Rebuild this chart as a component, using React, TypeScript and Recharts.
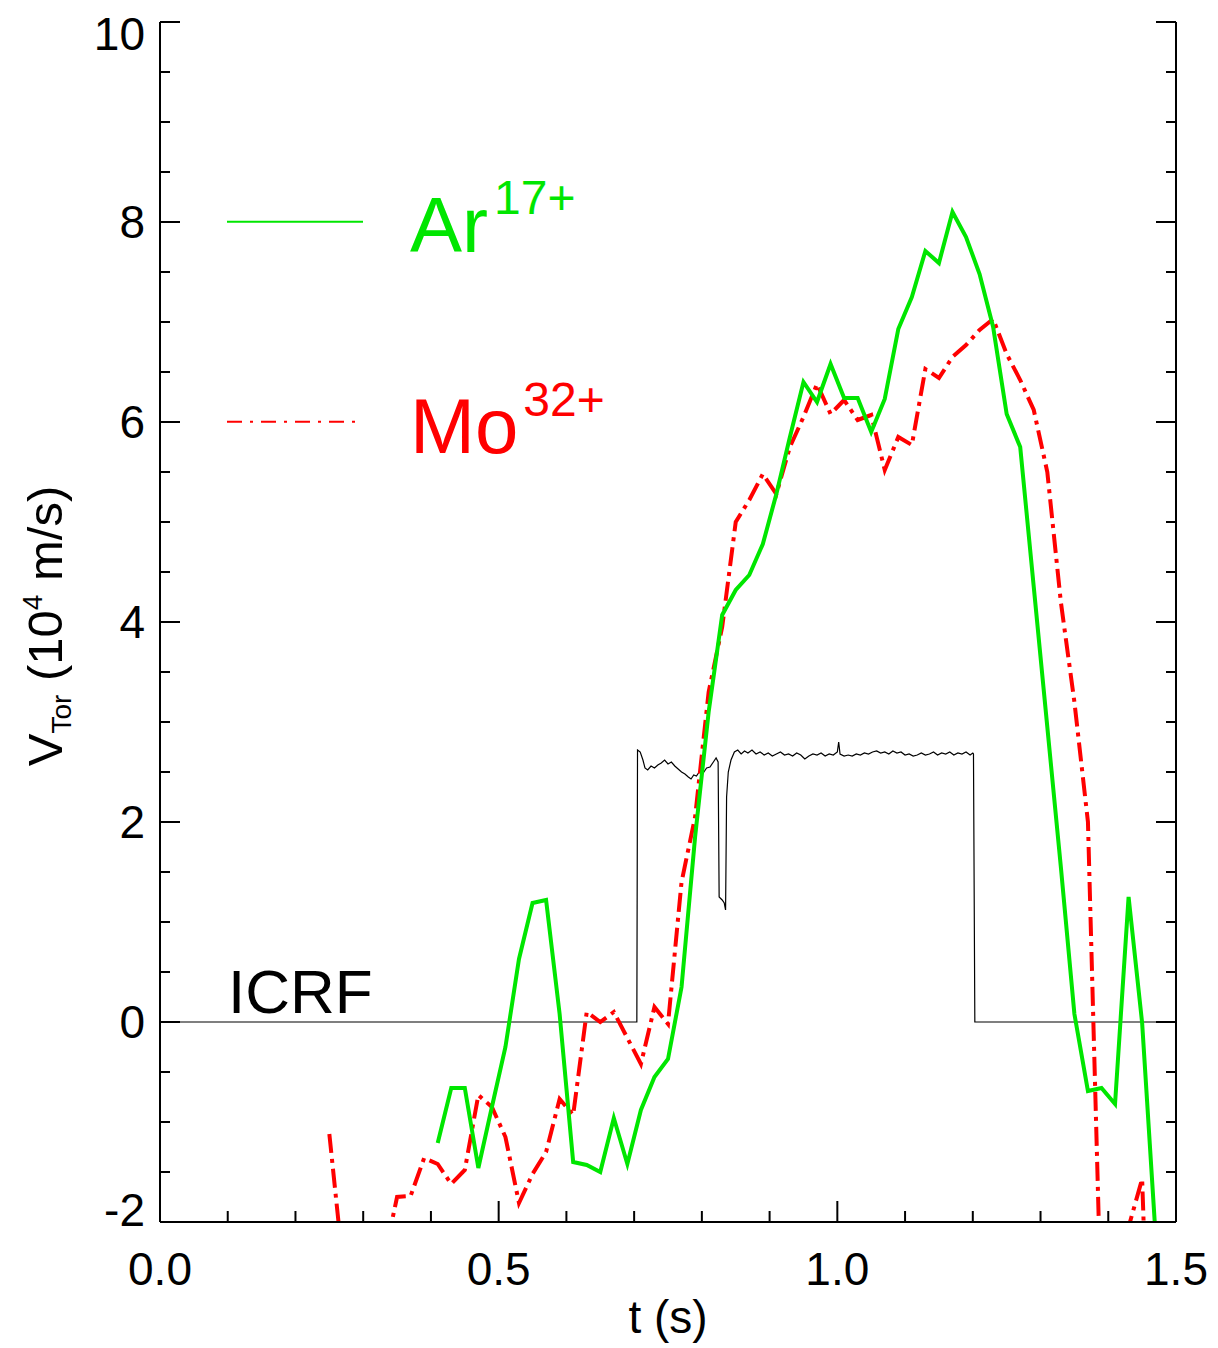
import React from 'react';
import { LineChart, Line, XAxis, YAxis } from 'recharts';

// Ar17+ toroidal velocity (10^4 m/s)
const arTimes = [
  0.41, 0.43, 0.45, 0.47, 0.49, 0.51, 0.53, 0.55, 0.57, 0.59, 0.61, 0.63, 0.65, 0.67, 0.69, 0.71, 0.73, 0.75,
  0.77, 0.79, 0.81, 0.83, 0.85, 0.87, 0.89, 0.91, 0.93, 0.95, 0.97, 0.99, 1.01, 1.03, 1.05, 1.07, 1.09, 1.11,
  1.13, 1.15, 1.17, 1.19, 1.21, 1.23, 1.25, 1.27, 1.29, 1.31, 1.33, 1.35, 1.37, 1.39, 1.41, 1.43, 1.45, 1.47,
];
const arValues = [
  -1.21, -0.66, -0.66, -1.46, -0.85, -0.25, 0.63, 1.19, 1.22, 0.08, -1.4, -1.43, -1.5, -0.96, -1.42, -0.88, -0.55, -0.37,
  0.35, 1.85, 3.1, 4.07, 4.32, 4.47, 4.78, 5.28, 5.85, 6.4, 6.2, 6.58, 6.24, 6.24, 5.9, 6.23, 6.93, 7.25,
  7.71, 7.59, 8.1, 7.85, 7.48, 6.95, 6.08, 5.75, 4.35, 2.95, 1.55, 0.08, -0.69, -0.66, -0.82, 1.25, -0.01, -2.15,
];

// Mo32+ toroidal velocity
const moTimes = [
  0.25, 0.27, 0.29, 0.31, 0.33, 0.35, 0.37, 0.39, 0.41, 0.43, 0.45, 0.47, 0.49, 0.51, 0.53, 0.55, 0.57, 0.59,
  0.61, 0.63, 0.65, 0.67, 0.69, 0.71, 0.73, 0.75, 0.77, 0.79, 0.81, 0.83, 0.85, 0.87, 0.89, 0.91, 0.93, 0.95,
  0.97, 0.99, 1.01, 1.03, 1.05, 1.07, 1.09, 1.11, 1.13, 1.15, 1.17, 1.19, 1.21, 1.23, 1.25, 1.27, 1.29, 1.31,
  1.33, 1.35, 1.37, 1.39, 1.41, 1.43, 1.45, 1.47,
];
const moValues = [
  -1.12, -2.42, -3.0, -2.9, -2.39, -1.75, -1.74, -1.36, -1.42, -1.62, -1.48, -0.73, -0.85, -1.15, -1.81, -1.52, -1.3, -0.77,
  -0.93, 0.1, 0.0, 0.1, -0.16, -0.42, 0.15, -0.02, 1.4, 2.05, 3.3, 3.95, 5.0, 5.22, 5.48, 5.28, 5.75, 6.05,
  6.38, 6.08, 6.22, 6.02, 6.07, 5.52, 5.85, 5.77, 6.53, 6.44, 6.65, 6.77, 6.92, 7.03, 6.68, 6.42, 6.12, 5.5,
  4.2, 3.2, 2.0, -3.0, -3.5, -2.05, -1.57, -5.5,
];

// ICRF power trace (arbitrary units, drawn on the same axis)
const icrfTimes = [
  0, 0.704, 0.705, 0.709, 0.713, 0.716, 0.72, 0.725, 0.73, 0.735, 0.74, 0.745, 0.75, 0.755, 0.76, 0.765, 0.77, 0.775,
  0.78, 0.784, 0.788, 0.792, 0.797, 0.802, 0.807, 0.812, 0.817, 0.821, 0.824, 0.8255, 0.83, 0.833, 0.835, 0.8365,
  0.839, 0.843, 0.848, 0.853, 0.858, 0.863, 0.868, 0.874, 0.88, 0.886, 0.892, 0.898, 0.904, 0.91, 0.916, 0.922,
  0.928, 0.934, 0.94, 0.946, 0.952, 0.958, 0.964, 0.97, 0.976, 0.982, 0.988, 0.994, 1.0, 1.002, 1.004, 1.01,
  1.016, 1.022, 1.028, 1.034, 1.04, 1.046, 1.052, 1.058, 1.064, 1.07, 1.076, 1.082, 1.088, 1.094, 1.1, 1.106,
  1.112, 1.118, 1.124, 1.13, 1.136, 1.142, 1.148, 1.154, 1.16, 1.166, 1.172, 1.178, 1.184, 1.19, 1.196, 1.2,
  1.201, 1.203, 1.5,
];
const icrfValues = [
  0, 0, 2.72, 2.7, 2.62, 2.54, 2.52, 2.56, 2.54, 2.57, 2.59, 2.62, 2.58, 2.6, 2.56, 2.53, 2.5, 2.48,
  2.45, 2.43, 2.47, 2.46, 2.51, 2.49, 2.54, 2.55, 2.6, 2.64, 2.6, 1.25, 1.22, 1.19, 1.12, 2.25,
  2.5, 2.62, 2.7, 2.72, 2.68, 2.71, 2.69, 2.72, 2.68, 2.7, 2.67, 2.69, 2.66, 2.68, 2.7, 2.67,
  2.68, 2.66, 2.69, 2.67, 2.63, 2.66, 2.68, 2.67, 2.69, 2.66, 2.68, 2.67, 2.7, 2.8, 2.68, 2.66,
  2.67, 2.66, 2.68, 2.67, 2.69, 2.68, 2.7, 2.71, 2.69, 2.7, 2.68, 2.71, 2.69, 2.7, 2.67, 2.68,
  2.66, 2.67, 2.69, 2.67, 2.68, 2.7, 2.67, 2.69, 2.68, 2.7, 2.67, 2.69, 2.68, 2.7, 2.67, 2.69,
  2.68, 0, 0,
];

const xTicks = [0, 0.1, 0.2, 0.3, 0.4, 0.5, 0.6, 0.7, 0.8, 0.9, 1.0, 1.1, 1.2, 1.3, 1.4, 1.5];
const yTicks = [-2, -1.5, -1, -0.5, 0, 0.5, 1, 1.5, 2, 2.5, 3, 3.5, 4, 4.5, 5, 5.5, 6, 6.5, 7, 7.5, 8, 8.5, 9, 9.5, 10];

const zip = (ts: number[], vs: number[]) => ts.map((t, i) => ({ t, v: vs[i] }));
const arData = zip(arTimes, arValues);
const moData = zip(moTimes, moValues);
const icrfData = zip(icrfTimes, icrfValues);

const FONT = '"Liberation Sans", Arial, Helvetica, sans-serif';
const GREEN = '#00e600';
const RED = '#ff0000';

const isMajorX = (v: number) => Math.abs(v * 2 - Math.round(v * 2)) < 1e-6;
const isMajorY = (v: number) => Math.abs(v / 2 - Math.round(v / 2)) < 1e-6;

const BottomTick = ({ x, y, payload }: any) => {
  const major = isMajorX(payload.value);
  return (
    <g>
      <line x1={x} y1={y} x2={x} y2={y - (major ? 21 : 11)} stroke="#000" strokeWidth={2} />
      {major && (
        <text x={x} y={y + 63} textAnchor="middle" fontSize={46} fontFamily={FONT} fill="#000">
          {payload.value.toFixed(1)}
        </text>
      )}
    </g>
  );
};

const TopTick = ({ x, y, payload }: any) => {
  const major = isMajorX(payload.value);
  return <line x1={x} y1={y} x2={x} y2={y + (major ? 21 : 11)} stroke="#000" strokeWidth={2} />;
};

const LeftTick = ({ x, y, payload }: any) => {
  const v = payload.value;
  const major = isMajorY(v);
  let dy = 0;
  if (v === 10) dy = 12;
  if (v === -2) dy = -12;
  return (
    <g>
      <line x1={x} y1={y} x2={x + (major ? 20 : 10)} y2={y} stroke="#000" strokeWidth={2} />
      {major && (
        <text x={x - 15} y={y + dy + 16} textAnchor="end" fontSize={46} fontFamily={FONT} fill="#000">
          {v}
        </text>
      )}
    </g>
  );
};

const RightTick = ({ x, y, payload }: any) => {
  const major = isMajorY(payload.value);
  return <line x1={x} y1={y} x2={x - (major ? 20 : 10)} y2={y} stroke="#000" strokeWidth={2} />;
};

export default function App() {
  return (
    <div style={{ position: 'absolute', left: 0, top: 0, width: 1218, height: 1348, background: '#fff' }}>
      <LineChart width={1218} height={1348} margin={{ top: 22, right: 0, bottom: 0, left: 0 }}>
        <XAxis
          xAxisId={0}
          dataKey="t"
          type="number"
          domain={[0, 1.5]}
          ticks={xTicks}
          interval={0}
          height={126}
          axisLine={{ stroke: '#000', strokeWidth: 2 }}
          tickLine={false}
          tickSize={0}
          tickMargin={0}
          tick={<BottomTick />}
        />
        <XAxis
          xAxisId="top"
          orientation="top"
          dataKey="t"
          type="number"
          domain={[0, 1.5]}
          ticks={xTicks}
          interval={0}
          height={0}
          axisLine={{ stroke: '#000', strokeWidth: 2 }}
          tickLine={false}
          tickSize={0}
          tickMargin={0}
          tick={<TopTick />}
        />
        <YAxis
          yAxisId={0}
          type="number"
          domain={[-2, 10]}
          allowDataOverflow
          ticks={yTicks}
          interval={0}
          width={160}
          axisLine={{ stroke: '#000', strokeWidth: 2 }}
          tickLine={false}
          tickSize={0}
          tickMargin={0}
          tick={<LeftTick />}
        />
        <YAxis
          yAxisId="right"
          orientation="right"
          type="number"
          domain={[-2, 10]}
          allowDataOverflow
          ticks={yTicks}
          interval={0}
          width={42}
          axisLine={{ stroke: '#000', strokeWidth: 2 }}
          tickLine={false}
          tickSize={0}
          tickMargin={0}
          tick={<RightTick />}
        />
        <Line
          data={icrfData}
          dataKey="v"
          type="linear"
          stroke="#000"
          strokeWidth={1.2}
          dot={false}
          activeDot={false}
          isAnimationActive={false}
        />
        <Line
          data={moData}
          dataKey="v"
          type="linear"
          stroke={RED}
          strokeWidth={4}
          strokeDasharray="19 6 4 6"
          dot={false}
          activeDot={false}
          isAnimationActive={false}
        />
        <Line
          data={arData}
          dataKey="v"
          type="linear"
          stroke={GREEN}
          strokeWidth={4}
          dot={false}
          activeDot={false}
          isAnimationActive={false}
        />
      </LineChart>
      <svg
        width={1218}
        height={1348}
        style={{ position: 'absolute', left: 0, top: 0, pointerEvents: 'none' }}
        fontFamily={FONT}
      >
        <line x1={227} y1={221.7} x2={363} y2={221.7} stroke={GREEN} strokeWidth={2} />
        <text x={410} y={252} fontSize={78} fill={GREEN}>
          Ar<tspan fontSize={48} dx={6} dy={-38}>17+</tspan>
        </text>
        <line x1={227} y1={421.7} x2={357} y2={421.7} stroke={RED} strokeWidth={2} strokeDasharray="15 8 3 8" />
        <text x={410} y={453} fontSize={78} fill={RED}>
          Mo<tspan fontSize={48} dx={5} dy={-37}>32+</tspan>
        </text>
        <text x={228} y={1013} fontSize={62} fill="#000">ICRF</text>
        <text x={668} y={1333} textAnchor="middle" fontSize={46} fill="#000">t (s)</text>
        <text
          x={62}
          y={626}
          transform="rotate(-90 62 626)"
          textAnchor="middle"
          fontSize={49}
          fill="#000"
        >
          V<tspan fontSize={28} dy={9}>Tor</tspan>
          <tspan dy={-9}>  (10</tspan>
          <tspan fontSize={28} dy={-20}>4</tspan>
          <tspan dy={20}> m/s)</tspan>
        </text>
      </svg>
    </div>
  );
}
